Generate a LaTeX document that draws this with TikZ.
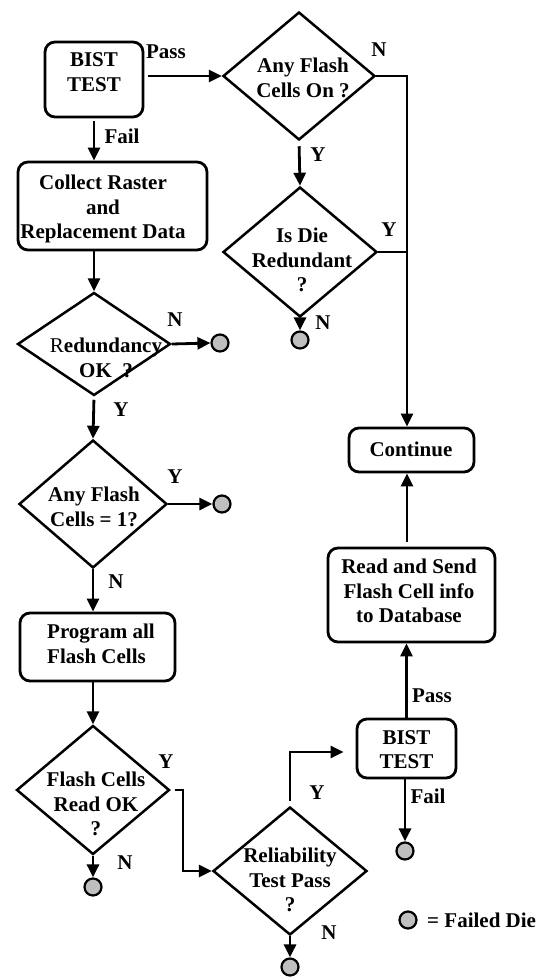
\documentclass[tikz,border=0pt]{standalone}
\usepackage{fontspec}
\setmainfont{Liberation Serif}
\usetikzlibrary{shapes.geometric,arrows.meta,calc}
\begin{document}
\begin{tikzpicture}[x=1pt,y=-1pt,
  every node/.style={font=\fontsize{21}{24.5}\selectfont\bfseries},
  box/.style={draw, rounded corners=10pt, line width=2.8pt, inner sep=0pt},
  dia/.style={draw, diamond, line width=2.5pt, inner sep=0pt},
  txt/.style={align=center, inner sep=0pt},
  lab/.style={inner sep=0pt},
  arr/.style={line width=2.8pt, -{Triangle[length=13pt,width=12pt]}},
  ln/.style={line width=2.8pt},
  die/.style={circle, draw, line width=2.2pt, fill=gray!50, minimum size=17pt, inner sep=0pt}]
\useasboundingbox (0,0) rectangle (548,978);

% left column
\node[box, minimum width=98pt, minimum height=75pt] (b1) at (94,79.5) {};
\node[txt] (tb1) at (94,72) {BIST\\TEST};
\node[box, minimum width=189pt, minimum height=88pt] (collect) at (112.5,206) {};
\node[txt] (tcollect) at (103,209) {Collect Raster\\and\\Replacement Data};
\node[dia, minimum width=153pt, minimum height=103pt] (dred) at (94,344) {};
\node[txt] (tdred) at (106,358) {{\mdseries R}edundancy\\OK~~?};
\node[die] (cred) at (220,343) {};
\node[dia, minimum width=148pt, minimum height=128pt] (dany) at (93,504) {};
\node[txt] (tdany) at (94,507) {Any Flash\\Cells = 1?};
\node[die] (cany) at (222,504) {};
\node[box, minimum width=155pt, minimum height=68pt] (prog) at (97.5,647) {};
\node[txt, align=left, anchor=west] (tprog) at (47,644) {Program all\\Flash Cells};
\node[dia, minimum width=153pt, minimum height=129pt] (dfok) at (93,790) {};
\node[txt] (tdfok) at (96,804) {Flash Cells\\Read OK\\?};
\node[die] (cfok) at (93,887) {};
\node[dia, minimum width=154pt, minimum height=128pt] (drel) at (290,871) {};
\node[txt] (tdrel) at (290,880) {Reliability\\Test Pass\\?};
\node[die] (crel) at (290,967) {};

% right column
\node[dia, minimum width=152pt, minimum height=128pt] (d1) at (299,76) {};
\node[txt] (td1) at (303,78) {Any Flash\\Cells On ?};
\node[dia, minimum width=154pt, minimum height=130pt] (d2) at (300,252) {};
\node[txt] (td2) at (302,260) {Is Die\\Redundant\\?};
\node[die] (cd2) at (300,340) {};
\node[box, minimum width=125pt, minimum height=44pt] (cont) at (411.5,450) {};
\node[txt] (tcont) at (411,449) {Continue};
\node[box, minimum width=167pt, minimum height=94pt] (read) at (411.5,595) {};
\node[txt] (tread) at (409,591) {Read and Send\\Flash Cell info\\to Database};
\node[box, minimum width=99pt, minimum height=59pt] (b2) at (406.5,748.5) {};
\node[txt] (tb2) at (406.5,749.5) {BIST\\TEST};
\node[die] (cb2) at (405,851) {};
\node[die] (cleg) at (408,920) {};
\node[lab, anchor=west] (tleg) at (427,920) {= Failed Die};

% connectors
\coordinate (railtop) at (407,76);
\coordinate (yk) at (183,790);
\coordinate (ytop) at (290,752);

\draw[arr, shorten <=4pt] (b1.east |- d1.west) -- (d1.west);
\node[lab] (lpass1) at (166,52) {Pass};
\draw[arr, shorten <=3pt] (b1.south) -- (b1.south |- collect.north);
\node[lab] (lfail1) at (122,136) {Fail};
\draw[arr] (collect.south -| b1.south) -- (dred.north);
\draw[arr] (dred.east) -- (cred.west);
\node[lab] (ln1) at (175,320) {N};
\draw[arr, shorten <=3pt] (dred.south) -- (dany.north);
\node[lab] (ly1) at (121,410) {Y};
\draw[arr] (dany.east) -- (cany.west);
\node[lab] (ly2) at (175,477) {Y};
\draw[arr] (dany.south) -- (dany.south |- prog.north);
\node[lab] (ln2) at (116,582) {N};
\draw[arr] (prog.south -| dfok.north) -- (dfok.north);
\draw[arr] (dfok.south) -- (cfok.north);
\node[lab] (ln3) at (125,863) {N};
\draw[arr, shorten <=4pt] (dfok.east) -- (yk) |- (drel.west);
\node[lab] (ly3) at (166,762) {Y};
\draw[arr, shorten <=5pt, shorten >=12pt] (drel.north) -- (ytop) -- (ytop -| b2.west);
\node[lab] (ly4) at (317,793) {Y};
\draw[arr] (drel.south) -- (crel.north);
\node[lab] (ln4) at (329,933) {N};
\draw[arr] (b2.north) -- (b2.north |- read.south);
\node[lab] (lpass2) at (432,696) {Pass};
\draw[arr] (b2.south -| cb2.north) -- (cb2.north);
\node[lab] (lfail2) at (428,796) {Fail};
\draw[arr, shorten <=5pt] (read.north -| railtop) -- (cont.south -| railtop);
\draw[arr] (d1.east) -- (railtop) -- (railtop |- cont.north);
\node[lab] (ln5) at (379,50) {N};
\draw[ln] (d2.east) -- (d2.east -| railtop);
\node[lab] (ly5) at (389,230) {Y};
\draw[arr, shorten <=5pt] (d1.south) -- (d2.north);
\node[lab] (ly6) at (318,155) {Y};
\draw[arr] (d2.south) -- (cd2.north);
\node[lab] (ln6) at (323,323) {N};
\end{tikzpicture}
\end{document}
